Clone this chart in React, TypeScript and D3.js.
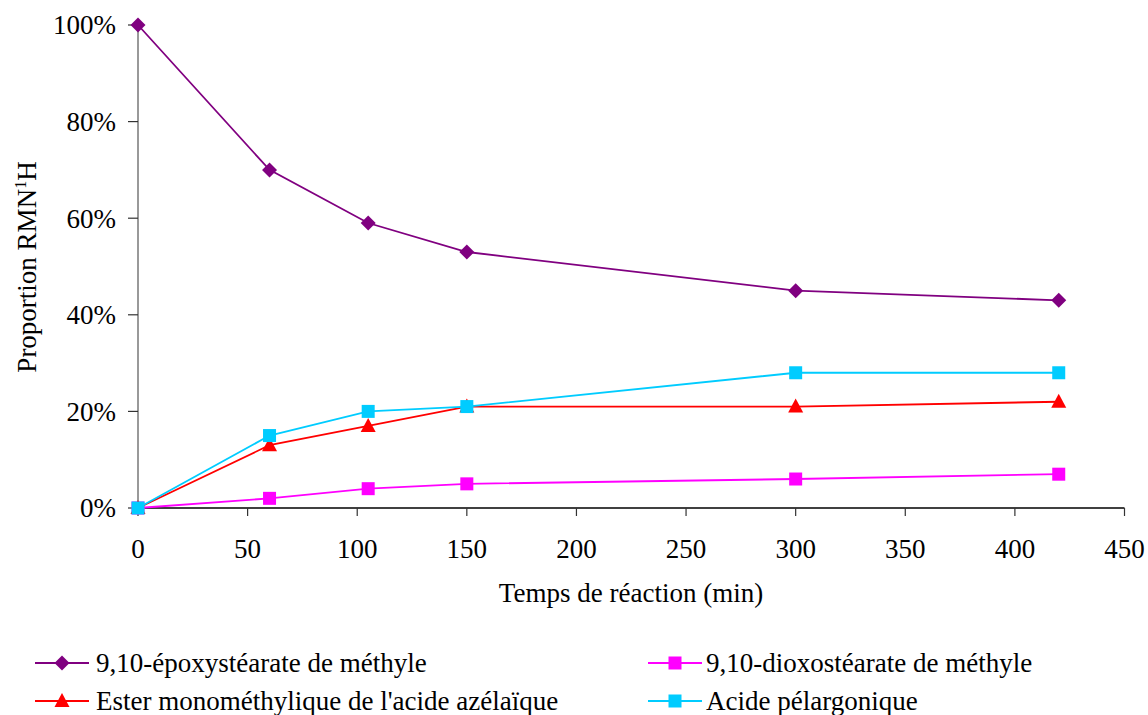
import React from "react";
import * as d3 from "d3";

const times = [0, 60, 105, 150, 300, 420];
const epoxy = [100, 70, 59, 53, 45, 43];
const dioxo = [0, 2, 4, 5, 6, 7];
const ester = [0, 13, 17, 21, 21, 22];
const pelarg = [0, 15, 20, 21, 28, 28];
const xTicks = [0, 50, 100, 150, 200, 250, 300, 350, 400, 450];
const yTicks = [0, 20, 40, 60, 80, 100];

const series = [
  { name: "9,10-époxystéarate de méthyle", values: epoxy, color: "#800080", marker: "diamond" },
  { name: "9,10-dioxostéarate de méthyle", values: dioxo, color: "#FF00FF", marker: "square" },
  { name: "Ester monométhylique de l'acide azélaïque", values: ester, color: "#FF0000", marker: "triangle" },
  { name: "Acide pélargonique", values: pelarg, color: "#00CCFF", marker: "square" },
];

const FONT = "Liberation Serif";
const FS = 27;

function Marker({ type, x, y, color }: { type: string; x: number; y: number; color: string }) {
  if (type === "diamond") {
    const s = 7.5;
    return <path d={`M${x},${y - s}L${x + s},${y}L${x},${y + s}L${x - s},${y}Z`} fill={color} />;
  }
  if (type === "triangle") {
    return <path d={`M${x},${y - 8}L${x + 7.5},${y + 6}L${x - 7.5},${y + 6}Z`} fill={color} />;
  }
  const s = 6.5;
  return <rect x={x - s} y={y - s} width={2 * s} height={2 * s} fill={color} />;
}

export default function App() {
  const W = 1148, H = 715;
  const x = d3.scaleLinear().domain([0, 450]).range([138, 1124.5]);
  const y = d3.scaleLinear().domain([0, 100]).range([508, 25]);
  const line = d3.line<number>().x((_, i) => x(times[i])).y((v) => y(v));

  const legendPos = [
    { lx: 35, ty: 663, tx: 96 },
    { lx: 648, ty: 663, tx: 706 },
    { lx: 35, ty: 701, tx: 96 },
    { lx: 648, ty: 701, tx: 706 },
  ];

  const ts = { fontFamily: FONT, fontSize: FS } as React.CSSProperties;

  return (
    <svg width={W} height={H} style={{ position: "absolute", left: 0, top: 0, background: "#fff" }}>
      <rect width={W} height={H} fill="#fff" />
      {/* axes */}
      <line x1={138} x2={138} y1={25} y2={508} stroke="#555" strokeWidth={1.2} />
      <line x1={138} x2={1124.5} y1={508} y2={508} stroke="#000" strokeWidth={1.3} />
      {yTicks.map((t) => (
        <g key={"y" + t}>
          <line x1={128} x2={138} y1={y(t)} y2={y(t)} stroke="#333" strokeWidth={1.2} />
          <text x={116} y={y(t)} dy="0.35em" textAnchor="end" style={ts} fill="#000">
            {t}%
          </text>
        </g>
      ))}
      {xTicks.map((t) => (
        <g key={"x" + t}>
          <line x1={x(t)} x2={x(t)} y1={508} y2={516} stroke="#333" strokeWidth={1.2} />
          <text x={x(t)} y={558} textAnchor="middle" style={ts} fill="#000">
            {t}
          </text>
        </g>
      ))}
      <text x={631} y={602} textAnchor="middle" style={ts}>
        Temps de réaction (min)
      </text>
      <text transform="translate(36,267) rotate(-90)" textAnchor="middle" style={ts}>
        Proportion RMN
        <tspan style={{ fontSize: 16 }} dy={-10}>1</tspan>
        <tspan dy={10}>H</tspan>
      </text>
      {/* series */}
      {series.map((s) => (
        <g key={s.name}>
          <path d={line(s.values) || ""} fill="none" stroke={s.color} strokeWidth={1.8} />
          {s.values.map((v, i) => (
            <Marker key={i} type={s.marker} x={x(times[i])} y={y(v)} color={s.color} />
          ))}
        </g>
      ))}
      {/* legend */}
      {series.map((s, i) => {
        const p = legendPos[i];
        return (
          <g key={"l" + i}>
            <line x1={p.lx} x2={p.lx + 54} y1={p.ty} y2={p.ty} stroke={s.color} strokeWidth={1.8} />
            <Marker type={s.marker} x={p.lx + 27} y={p.ty} color={s.color} />
            <text x={p.tx} y={p.ty} dy="0.35em" style={ts}>
              {s.name}
            </text>
          </g>
        );
      })}
    </svg>
  );
}
